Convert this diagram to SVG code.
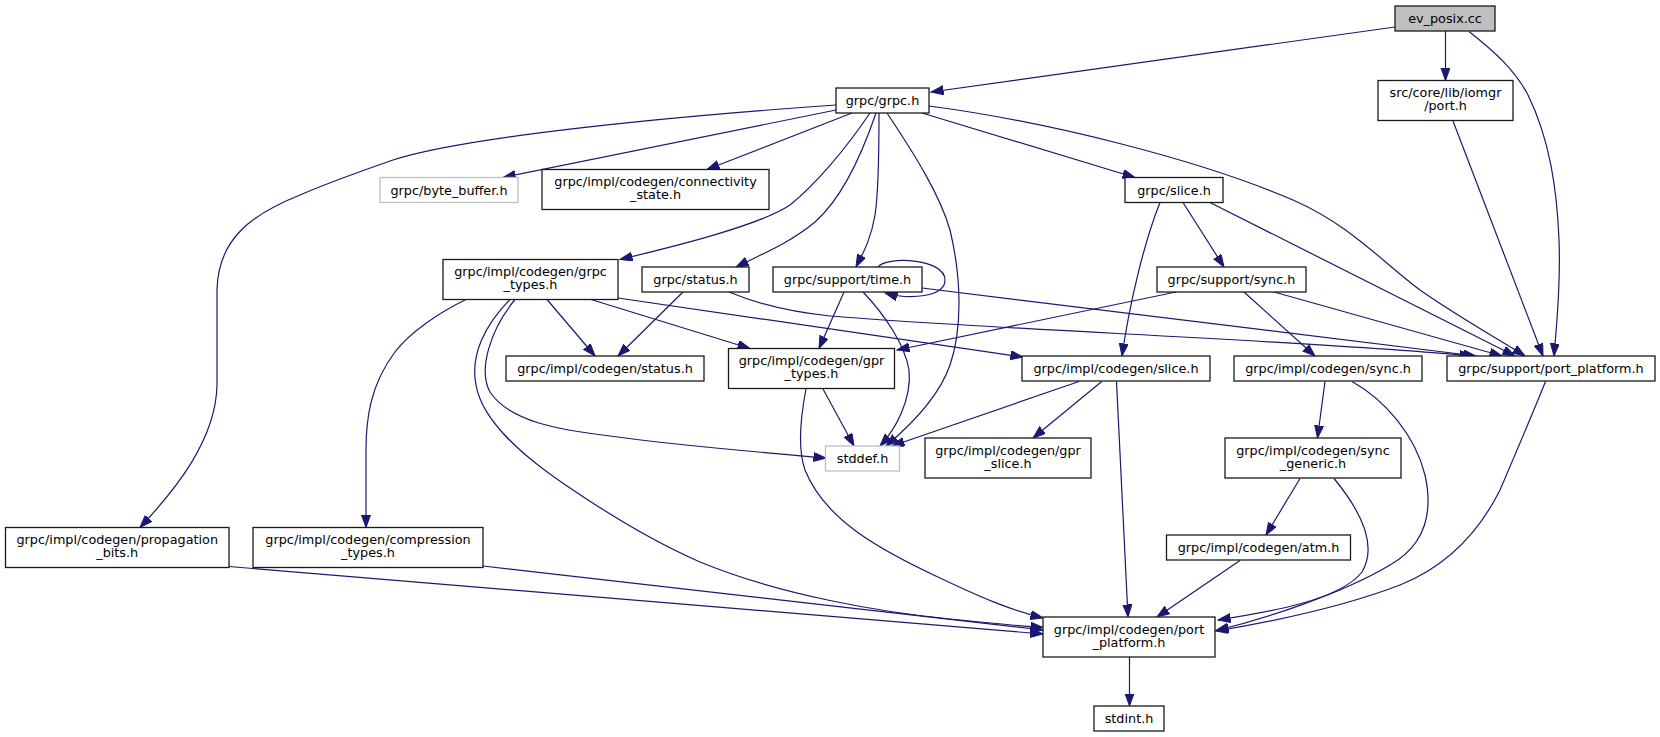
<svg xmlns="http://www.w3.org/2000/svg" width="1660" height="737" viewBox="0 0 1660 737">
<style>
rect{fill:#ffffff;stroke:#1a1a1a;stroke-width:1.3}
rect.gray{stroke:#bfbfbf}
rect.root{fill:#bfbfbf}
text{font-family:"DejaVu Sans","Liberation Sans",sans-serif;font-size:12.8px;text-anchor:middle;fill:#000}
#edges path{fill:none;stroke:#191970;stroke-width:1.2;marker-end:url(#arr)}
</style>
<defs>
<marker id="arr" markerUnits="userSpaceOnUse" markerWidth="14" markerHeight="10" refX="12.5" refY="4.5" orient="auto">
<path d="M0,0 L12.5,4.5 L0,9 z" fill="#191970" stroke="#191970" stroke-width="1"/>
</marker>
</defs>
<rect x="0" y="0" width="1660" height="737" style="fill:#fff;stroke:none"/>
<g id="edges">
<path d="M1395,27 L931,92"/>
<path d="M1445.5,31 L1445.5,80.5"/>
<path d="M1469,31.5 C1495,52 1515,70 1528,95 C1550,140 1557,190 1559,240 C1561,290 1556,330 1554,356"/>
<path d="M1453,121 L1543,356"/>
<path d="M836,110 L503,177.5"/>
<path d="M852,113 L707,169.5"/>
<path d="M836,105 C650,118 460,138 393,160 C370,168 330,182 300,195 C250,215 218,240 217,290 L217,385 C216,440 175,490 140,527.5"/>
<path d="M870,113 C845,150 815,185 790,205 C760,225 680,245 620,259.5"/>
<path d="M876,113 C860,160 840,200 815,222 C790,243 760,255 736,267"/>
<path d="M879,113 C879,150 879,190 875,215 C871,240 862,255 856,267"/>
<path d="M887,113 C915,155 940,195 950,230 C962,280 962,330 950,365 C938,400 905,430 886,446"/>
<path d="M922,113 L1135,177.5"/>
<path d="M929,106 C1050,122 1200,160 1293,200 C1350,225 1380,260 1420,290 C1460,318 1500,340 1525,356"/>
<path d="M1160,202.5 C1145,240 1130,300 1122,356"/>
<path d="M1183,202.5 L1224,267"/>
<path d="M1210,202.5 L1515,356"/>
<path d="M1176,292 L897,350"/>
<path d="M1244,292 L1315,356"/>
<path d="M1274,292 L1502,356"/>
<path d="M844,292 L819,348.5"/>
<path d="M863,292 C885,315 905,345 909,370 C912,400 895,430 880,446"/>
<path d="M922,288 L1476,356"/>
<path d="M878,267 C885,256 945,258 945,280 C945,297 910,300 885,293"/>
<path d="M729,292 C760,305 790,312 830,316 C1000,330 1300,340 1472,356"/>
<path d="M683,292 L618,356"/>
<path d="M547,299.5 L595,356"/>
<path d="M591,299.5 L750,348.5"/>
<path d="M618,298 L1023,357"/>
<path d="M466,299.5 C440,312 410,332 395,352 C370,385 366,420 366,450 L366,527.5"/>
<path d="M515,299.5 C490,330 478,370 490,392 C510,422 560,430 610,436 C680,446 760,452 826,458"/>
<path d="M510,299.5 C485,325 470,355 476,385 C482,420 520,455 573,490 C610,515 650,540 700,562 C780,595 880,612 950,619 C990,623 1020,626 1043,627.5"/>
<path d="M823,389 L854,446"/>
<path d="M806,389 C800,420 798,450 805,470 C825,520 880,550 940,578 C980,597 1010,610 1043,618"/>
<path d="M1079,381.5 L892,446"/>
<path d="M1101.7,381.5 L1033,438"/>
<path d="M1116.5,381.5 L1128,617"/>
<path d="M1325,381.5 L1317.5,438"/>
<path d="M1352,381.5 C1385,400 1415,435 1425,475 C1435,520 1420,548 1390,565 C1340,595 1260,620 1216,630.5"/>
<path d="M1545.5,381.5 C1530,420 1515,455 1500,490 C1480,530 1450,565 1400,585 C1340,608 1270,622 1216,631"/>
<path d="M1300,478.5 L1266,535"/>
<path d="M1334,478.5 C1360,510 1378,545 1362,572 C1340,600 1270,612 1218,620"/>
<path d="M1240,560.5 L1157,617"/>
<path d="M229,566.5 L1043,634"/>
<path d="M483,566 L1043,630"/>
<path d="M1129.5,657 L1129.5,706"/>
</g>
<g id="n_ev_posix"><rect class="root" x="1395" y="6" width="100" height="25"/><text x="1445" y="23">ev_posix.cc</text></g>
<g id="n_grpc_h"><rect x="836" y="88" width="93" height="25"/><text x="882.5" y="105">grpc/grpc.h</text></g>
<g id="n_iomgr_port"><rect x="1378" y="80.5" width="135" height="40"/><text x="1445.5" y="97">src/core/lib/iomgr</text><text x="1445.5" y="110">/port.h</text></g>
<g id="n_byte_buffer"><rect class="gray" x="380" y="177.5" width="138" height="25"/><text x="449" y="194.5">grpc/byte_buffer.h</text></g>
<g id="n_connectivity"><rect x="542" y="169.5" width="227" height="40"/><text x="655.5" y="186">grpc/impl/codegen/connectivity</text><text x="655.5" y="199">_state.h</text></g>
<g id="n_slice_h"><rect x="1125" y="177.5" width="98" height="25"/><text x="1174" y="194.5">grpc/slice.h</text></g>
<g id="n_grpc_types"><rect x="443" y="259.5" width="175" height="40"/><text x="530.5" y="276">grpc/impl/codegen/grpc</text><text x="530.5" y="289">_types.h</text></g>
<g id="n_status_h"><rect x="642" y="267" width="107" height="25"/><text x="695.5" y="284">grpc/status.h</text></g>
<g id="n_time_h"><rect x="773" y="267" width="149" height="25"/><text x="847.5" y="284">grpc/support/time.h</text></g>
<g id="n_sync_h"><rect x="1157" y="267" width="149" height="25"/><text x="1231.5" y="284">grpc/support/sync.h</text></g>
<g id="n_cg_status"><rect x="506" y="356" width="198" height="25"/><text x="605" y="373">grpc/impl/codegen/status.h</text></g>
<g id="n_gpr_types"><rect x="728.5" y="348.5" width="166" height="40"/><text x="811.5" y="365">grpc/impl/codegen/gpr</text><text x="811.5" y="378">_types.h</text></g>
<g id="n_cg_slice"><rect x="1022" y="356" width="188" height="25"/><text x="1116" y="373">grpc/impl/codegen/slice.h</text></g>
<g id="n_cg_sync"><rect x="1234" y="356" width="188" height="25"/><text x="1328" y="373">grpc/impl/codegen/sync.h</text></g>
<g id="n_sup_port_platform"><rect x="1447" y="356" width="208" height="25"/><text x="1551" y="373">grpc/support/port_platform.h</text></g>
<g id="n_stddef"><rect class="gray" x="825.5" y="446" width="74" height="25"/><text x="862.5" y="463">stddef.h</text></g>
<g id="n_gpr_slice"><rect x="925" y="438" width="166" height="40"/><text x="1008" y="454.5">grpc/impl/codegen/gpr</text><text x="1008" y="467.5">_slice.h</text></g>
<g id="n_sync_generic"><rect x="1225" y="438" width="176" height="40"/><text x="1313" y="454.5">grpc/impl/codegen/sync</text><text x="1313" y="467.5">_generic.h</text></g>
<g id="n_propagation"><rect x="5.5" y="527.5" width="223.5" height="40"/><text x="117.25" y="544">grpc/impl/codegen/propagation</text><text x="117.25" y="557">_bits.h</text></g>
<g id="n_compression"><rect x="253" y="527.5" width="230" height="40"/><text x="368" y="544">grpc/impl/codegen/compression</text><text x="368" y="557">_types.h</text></g>
<g id="n_atm"><rect x="1166.5" y="535" width="184" height="25"/><text x="1258.5" y="552">grpc/impl/codegen/atm.h</text></g>
<g id="n_cg_port_platform"><rect x="1043" y="617" width="172" height="40"/><text x="1129" y="633.5">grpc/impl/codegen/port</text><text x="1129" y="646.5">_platform.h</text></g>
<g id="n_stdint"><rect x="1094" y="706" width="70" height="25"/><text x="1129" y="723">stdint.h</text></g>
</svg>
